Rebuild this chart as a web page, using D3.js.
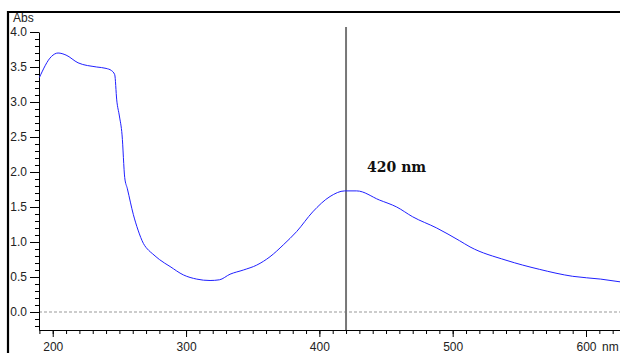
<!DOCTYPE html>
<html>
<head>
<meta charset="utf-8">
<script src="https://cdn.jsdelivr.net/npm/d3@7"></script>
<style>
  body { margin: 0; background: #fff; }
  svg { display: block; }
  .axis text { font-family: "Liberation Sans", Arial, sans-serif; font-size: 12px; fill: #222; }
  .axis path, .axis line { stroke: #000; }
</style>
</head>
<body>
<div id="chart"></div>
<script>
// wavelength (nm) and absorbance
var wavelength = [190, 199, 204, 210, 219, 233, 240, 244, 246.5, 248, 250, 252, 254, 256, 260.5, 264, 268, 272, 275, 280,
                  288, 298, 308, 318, 325, 333, 343, 353, 363, 373, 383, 395, 408, 419, 428, 445, 458, 470, 488, 505,
                  513, 540, 565, 590, 611, 626];
var absorbance = [3.35, 3.65, 3.70, 3.67, 3.56, 3.50, 3.48, 3.45, 3.39, 3.03, 2.80, 2.53, 1.92, 1.76, 1.39, 1.17, 0.98, 0.88, 0.83, 0.75,
                  0.65, 0.53, 0.47, 0.45, 0.46, 0.54, 0.60, 0.67, 0.79, 0.96, 1.15, 1.43, 1.65, 1.73, 1.73, 1.60, 1.50, 1.36, 1.20, 1.02,
                  0.93, 0.74, 0.61, 0.51, 0.47, 0.43];
var xTicks = [200, 300, 400, 500, 600];
var yTicks = [0, 0.5, 1.0, 1.5, 2.0, 2.5, 3.0, 3.5, 4.0];
var markerWl = 420;
var markerLabel = "420 nm";

var W = 620, H = 353;

var svg = d3.select("#chart")
  .append("svg")
    .attr("width", W)
    .attr("height", H);

var x = d3.scaleLinear().domain([189.7, 625.5]).range([39, 620]);
var y = d3.scaleLinear().domain([-0.257, 4.0]).range([330, 32]);

// window frame (left + top)
svg.append("path")
    .attr("d", "M8," + H + "V12H" + W)
    .attr("fill", "none")
    .attr("stroke", "#000")
    .attr("stroke-width", 2.2);

// zero baseline
svg.append("line")
    .attr("x1", x(189.7)).attr("x2", W)
    .attr("y1", y(0)).attr("y2", y(0))
    .attr("stroke", "#999")
    .attr("stroke-dasharray", "3,2");

// minor ticks
svg.append("g")
    .attr("class", "axis")
    .attr("transform", "translate(0,330)")
    .call(d3.axisBottom(x).tickValues(d3.range(190, 630, 10)).tickSize(4).tickSizeOuter(0).tickFormat(""))
    .select(".domain").remove();
svg.append("g")
    .attr("class", "axis")
    .attr("transform", "translate(39,0)")
    .call(d3.axisLeft(y).tickValues(d3.range(-2, 41).map(function(d) { return d / 10; })).tickSize(4).tickSizeOuter(0).tickFormat(""))
    .select(".domain").remove();

// X axis
var gx = svg.append("g")
    .attr("class", "axis")
    .attr("transform", "translate(0,330)")
    .call(d3.axisBottom(x).tickValues(xTicks).tickSize(7).tickSizeOuter(0).tickPadding(5).tickFormat(d3.format("d")));

gx.append("text")
    .attr("x", x(600) + 16)
    .attr("y", 12)
    .attr("dy", "0.71em")
    .attr("text-anchor", "start")
    .text("nm");

// Y axis
var gy = svg.append("g")
    .attr("class", "axis")
    .attr("transform", "translate(39,0)")
    .call(d3.axisLeft(y).tickValues(yTicks).tickSize(9).tickSizeOuter(0).tickPadding(3).tickFormat(d3.format(".1f")));

gy.append("text")
    .attr("x", -26)
    .attr("y", 22)
    .attr("text-anchor", "start")
    .text("Abs");

// marker line at 420 nm
svg.append("line")
    .attr("x1", x(markerWl)).attr("x2", x(markerWl))
    .attr("y1", 27).attr("y2", 330)
    .attr("stroke", "#777")
    .attr("stroke-width", 2);

svg.append("text")
    .attr("x", x(markerWl) + 21)
    .attr("y", 172)
    .attr("font-family", "'DejaVu Serif', serif")
    .attr("font-weight", "bold")
    .attr("font-size", "14px")
    .attr("fill", "#111")
    .text(markerLabel);

// spectrum
var pts = wavelength.map(function(w, i) { return [w, absorbance[i]]; });
var line = d3.line()
    .x(function(d) { return x(d[0]); })
    .y(function(d) { return y(d[1]); })
    .curve(d3.curveMonotoneX);

svg.append("path")
    .datum(pts)
    .attr("fill", "none")
    .attr("stroke", "#2020ff")
    .attr("stroke-width", 1)
    .attr("d", line);
</script>
</body>
</html>
